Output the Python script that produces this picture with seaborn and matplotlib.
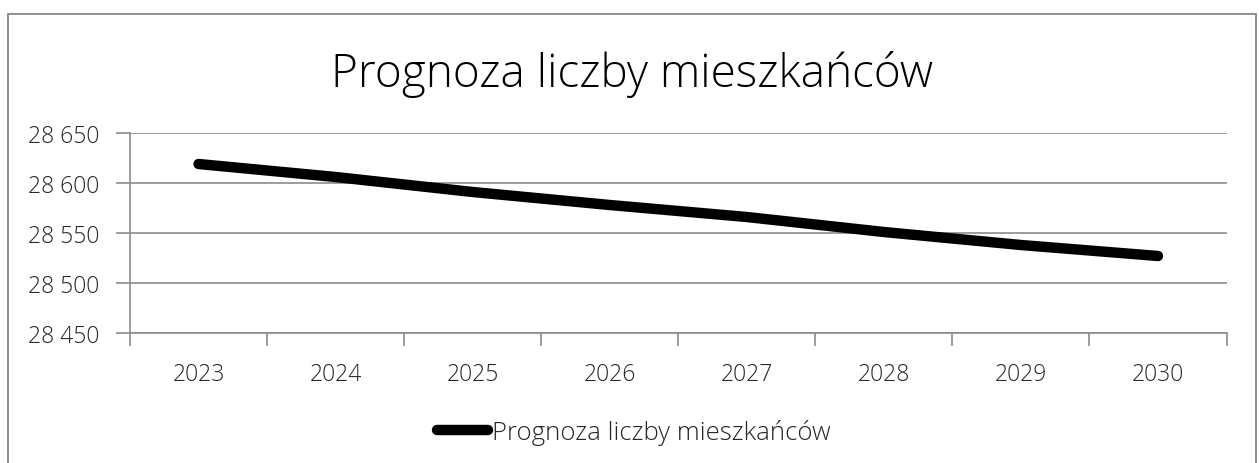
import matplotlib
matplotlib.use("Agg")
import matplotlib.pyplot as plt
import matplotlib.ticker as mticker
from matplotlib.patches import Rectangle
import pandas as pd
import seaborn as sns

years = ["2023", "2024", "2025", "2026", "2027", "2028", "2029", "2030"]
population = [28619, 28606, 28591, 28578, 28566, 28551, 28538, 28527]
series_name = "Prognoza liczby mieszkańców"
y_ticks = [28450, 28500, 28550, 28600, 28650]

df = pd.DataFrame({"rok": years, "liczba": population, "seria": series_name})

sns.set_style("white")
plt.rcParams["font.family"] = ["Open Sans", "DejaVu Sans"]

grid_col = "#8c8c8c"
text_col = "#262626"

fig = plt.figure(figsize=(12.59, 4.64), dpi=100)
ax = fig.add_axes([130 / 1259, 1 - 334 / 464, (1226.5 - 130) / 1259, 200 / 464])

sns.lineplot(data=df, x="rok", y="liczba", hue="seria", palette=["black"],
             linewidth=7.5, solid_capstyle="round", ax=ax, legend=False)

ax.set_xlim(-0.5, len(years) - 0.5)
ax.set_ylim(y_ticks[0], y_ticks[-1])
ax.set_yticks(y_ticks)
ax.yaxis.set_major_formatter(mticker.FuncFormatter(lambda v, p: f"{int(v):,}".replace(",", " ")))
ax.grid(axis="y", color=grid_col, linewidth=1.2)
ax.set_axisbelow(True)
ax.set_xlabel("")
ax.set_ylabel("")

# category boundary ticks like Excel
ax.set_xticks([i - 0.5 for i in range(len(years) + 1)], minor=True)
ax.tick_params(axis="x", which="minor", length=9, width=1.2, color=grid_col, direction="out", bottom=True)
ax.tick_params(axis="x", which="major", length=0, pad=21, labelsize=16.5, labelcolor=text_col)
ax.tick_params(axis="y", which="major", length=10, width=1.2, color=grid_col, direction="out", left=True,
               pad=12, labelsize=16.5, labelcolor=text_col)
for lab in ax.get_xticklabels() + ax.get_yticklabels():
    lab.set_fontweight("light")

for side in ["top", "right"]:
    ax.spines[side].set_visible(False)
for side in ["left", "bottom"]:
    ax.spines[side].set_color(grid_col)
    ax.spines[side].set_linewidth(1.2)

fig.text(0.5016, 1 - 75 / 464, series_name, ha="center", va="center",
         fontsize=33, fontweight="light", color="black")

handle = plt.Line2D([], [], color="black", linewidth=7.5, solid_capstyle="round")
fig.legend([handle], [series_name], loc="center", bbox_to_anchor=(634 / 1259, 1 - 433 / 464),
           frameon=False, handlelength=2.0, handletextpad=0.15,
           labelcolor=text_col, prop={"weight": "light", "size": 18.5})

fig.patches.append(Rectangle((8 / 1259, -0.1), (1255.5 - 8) / 1259, 1.1 - 15 / 464,
                             transform=fig.transFigure, fill=False,
                             edgecolor="#878787", linewidth=1.3))

fig.savefig("out.png", dpi=100, facecolor="white")
